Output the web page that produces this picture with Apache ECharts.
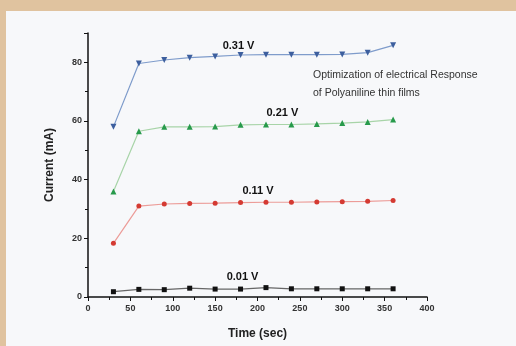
<!DOCTYPE html>
<html style="height: 100%">
<head>
    <meta charset="utf-8">
    <title>ECharts</title>
    <script src="https://cdn.jsdelivr.net/npm/echarts@6/dist/echarts.min.js"></script>
</head>
<body style="height: 100%; margin: 0; background: #e0c39f">
<div id="frame" style="position: absolute; left: 6px; top: 11px; right: 0; bottom: 0; background: #f7f8fa"></div>
<div id="main" style="position: absolute; left: 0; top: 0; width: 516px; height: 346px"></div>
<script type="text/javascript">
    // time (sec)
    var times = [30, 60, 90, 120, 150, 180, 210, 240, 270, 300, 330, 360];
    // current (mA) per applied voltage
    var v031 = [58, 79.6, 80.8, 81.6, 82, 82.5, 82.6, 82.6, 82.6, 82.7, 83.3, 85.8];
    var v021 = [36, 56.5, 58, 58, 58.1, 58.7, 58.8, 58.8, 59, 59.3, 59.7, 60.5];
    var v011 = [18.3, 31, 31.7, 31.9, 32, 32.2, 32.3, 32.3, 32.4, 32.5, 32.6, 32.9];
    var v001 = [1.8, 2.6, 2.5, 3.0, 2.7, 2.7, 3.2, 2.8, 2.8, 2.8, 2.8, 2.8];
    var names = ['0.31 V', '0.21 V', '0.11 V', '0.01 V'];

    function pairs(ys, labelIdx, labelText, offset) {
        var res = [];
        for (var i = 0; i < times.length; i++) {
            var item = { value: [times[i], ys[i]] };
            if (i === labelIdx) {
                item.label = {
                    show: true,
                    position: 'top',
                    offset: offset,
                    formatter: labelText,
                    color: '#111',
                    fontSize: 11,
                    fontWeight: 'bold',
                    fontFamily: 'Liberation Sans'
                };
            }
            res.push(item);
        }
        return res;
    }

    function line(name, ys, symbol, rotate, size, markColor, lineColor, labelIdx, offset) {
        return {
            name: name,
            type: 'line',
            data: pairs(ys, labelIdx, name, offset),
            symbol: symbol,
            symbolRotate: rotate,
            symbolSize: size,
            itemStyle: { color: markColor },
            lineStyle: { color: lineColor, width: 1.2 },
            z: 3
        };
    }

    var myChart = echarts.init(document.getElementById('main'));
    var option = {
        animation: false,
        grid: { left: 88, right: 89, top: 33, bottom: 49 },
        xAxis: {
            type: 'value',
            min: 0,
            max: 400,
            interval: 50,
            name: 'Time (sec)',
            nameLocation: 'middle',
            nameGap: 31,
            nameTextStyle: { color: '#222', fontSize: 12, fontWeight: 'bold', fontFamily: 'Liberation Sans' },
            axisLine: { lineStyle: { color: '#111', width: 1.5 } },
            axisTick: { length: 4, lineStyle: { color: '#111' } },
            minorTick: { show: true, splitNumber: 2, length: 3, lineStyle: { color: '#111' } },
            axisLabel: { color: '#333', fontSize: 9, fontWeight: 'bold', margin: 7, fontFamily: 'Liberation Sans' },
            splitLine: { show: false }
        },
        yAxis: {
            type: 'value',
            min: 0,
            max: 90,
            interval: 20,
            name: 'Current (mA)',
            nameLocation: 'middle',
            nameGap: 32,
            nameTextStyle: { color: '#222', fontSize: 12, fontWeight: 'bold', fontFamily: 'Liberation Sans' },
            axisLine: { show: true, lineStyle: { color: '#111', width: 1.5 } },
            axisTick: { show: true, length: 4, lineStyle: { color: '#111' } },
            minorTick: { show: true, splitNumber: 2, length: 3, lineStyle: { color: '#111' } },
            axisLabel: {
                color: '#333', fontSize: 9, fontWeight: 'bold', margin: 6, fontFamily: 'Liberation Sans',
                formatter: function (v) { return v > 80 ? '' : v; }
            },
            splitLine: { show: false }
        },
        graphic: [{
            type: 'text',
            left: 313,
            top: 66,
            style: {
                text: 'Optimization of electrical Response\nof Polyaniline thin films',
                fill: '#333',
                font: '10.5px "Liberation Sans", sans-serif',
                lineHeight: 18
            }
        }],
        series: [
            line(names[0], v031, 'triangle', 180, 6, '#3d5f9e', '#7f9ccb', 5, [-2, 4]),
            line(names[1], v021, 'triangle', 0, 6, '#279a4b', '#a8d4a8', 7, [-9, 2]),
            line(names[2], v011, 'circle', 0, 5, '#d43a32', '#ec9c98', 6, [-8, 2]),
            line(names[3], v001, 'rect', 0, 5, '#111111', '#666666', 5, [2, 1])
        ]
    };
    myChart.setOption(option);
</script>
</body>
</html>
